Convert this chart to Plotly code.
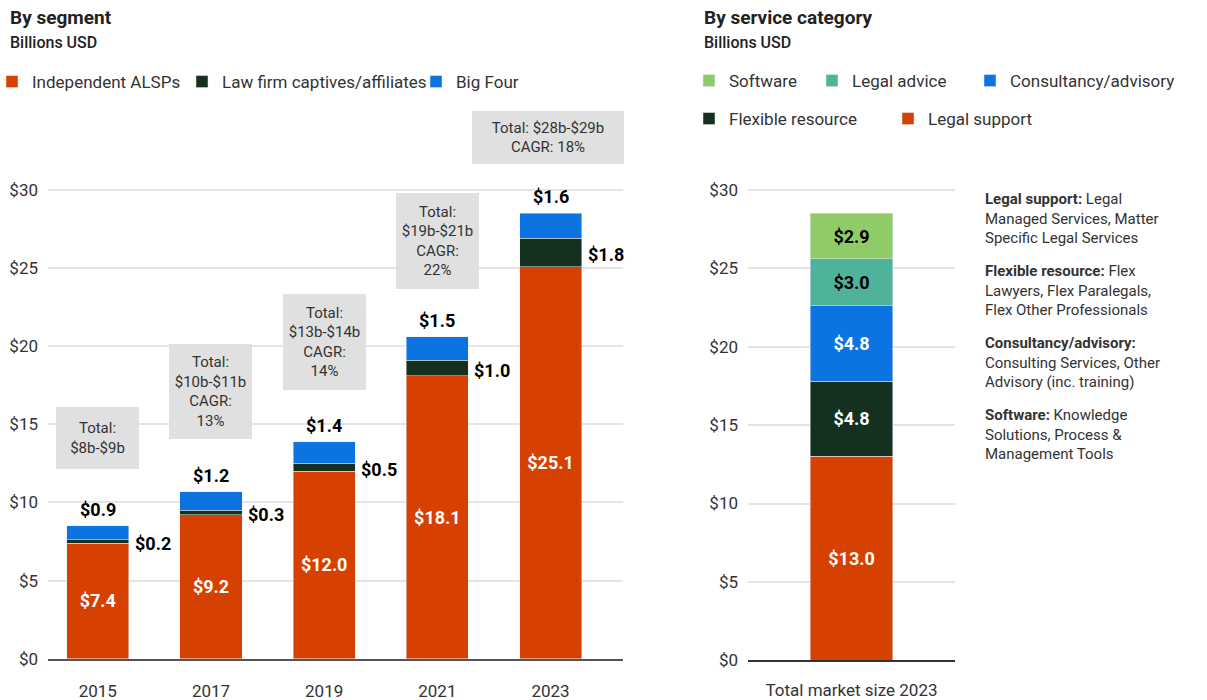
import plotly.graph_objects as go

# ---- Market by segment (billions USD) ----
years = ["2015", "2017", "2019", "2021", "2023"]
independent_alsps = [7.4, 9.2, 12.0, 18.1, 25.1]
law_firm_captives = [0.2, 0.3, 0.5, 1.0, 1.8]
big_four = [0.9, 1.2, 1.4, 1.5, 1.6]
total_ranges = ["$8b-$9b", "$10b-$11b", "$13b-$14b", "$19b-$21b", "$28b-$29b"]
cagr = [None, "13%", "14%", "22%", "18%"]

# ---- Market by service category, 2023 (billions USD) ----
service_x = ["Total market size 2023"]
legal_support = [13.0]
flexible_resource = [4.8]
consultancy_advisory = [4.8]
legal_advice = [3.0]
software = [2.9]

category_notes = [
    ("Legal support:", " Legal<br>Managed Services, Matter<br>Specific Legal Services"),
    ("Flexible resource:", " Flex<br>Lawyers, Flex Paralegals,<br>Flex Other Professionals"),
    ("Consultancy/advisory:", "<br>Consulting Services, Other<br>Advisory (inc. training)"),
    ("Software:", " Knowledge<br>Solutions, Process &<br>Management Tools"),
]

ORANGE = "#D64000"
DARK = "#14301F"
BLUE = "#0B74E1"
LIGHT_GREEN = "#8FCB66"
TEAL = "#4EB39A"
FONT = "Roboto"
TXT = "#333333"

W, H = 1207, 700
BAR_W = 0.548

fig = go.Figure()

# left: stacked segments per year
fig.add_trace(go.Bar(
    x=years, y=independent_alsps, name="Independent ALSPs", marker_color=ORANGE,
    width=BAR_W, texttemplate="$%{y:.1f}", textposition="inside",
    insidetextanchor="middle", textangle=0, constraintext="none",
    textfont=dict(family=FONT, size=18, color="white", weight="bold"),
    legend="legend", showlegend=True, xaxis="x", yaxis="y"))
fig.add_trace(go.Bar(
    x=years, y=law_firm_captives, name="Law firm captives/affiliates",
    marker_color=DARK, width=BAR_W, legend="legend2", xaxis="x", yaxis="y"))
fig.add_trace(go.Bar(
    x=years, y=big_four, name="Big Four", marker_color=BLUE, width=BAR_W,
    legend="legend3", xaxis="x", yaxis="y"))

# right: single stacked bar by service category
right_series = [
    ("Legal support", legal_support, ORANGE, "white", "legend8"),
    ("Flexible resource", flexible_resource, DARK, "white", "legend7"),
    ("Consultancy/advisory", consultancy_advisory, BLUE, "white", "legend6"),
    ("Legal advice", legal_advice, TEAL, "black", "legend5"),
    ("Software", software, LIGHT_GREEN, "black", "legend4"),
]
for name, vals, color, tcolor, leg in right_series:
    fig.add_trace(go.Bar(
        x=service_x, y=vals, name=name, marker_color=color, width=0.4,
        texttemplate="$%{y:.1f}", textposition="inside",
        insidetextanchor="middle", textangle=0, constraintext="none",
        textfont=dict(family=FONT, size=18, color=tcolor, weight="bold"),
        legend=leg, xaxis="x2", yaxis="y2"))

annotations = []

# value labels on the left chart
box_shift = [57, 53, 52, 48, 49]
box_h = [62, 95, 96, 96, 53]
for i, yr in enumerate(years):
    base = independent_alsps[i]
    total = base + law_firm_captives[i] + big_four[i]
    annotations.append(dict(
        x=i, y=total, xref="x", yref="y", yanchor="bottom", yshift=4,
        text=f"<b>${big_four[i]:.1f}</b>", showarrow=False,
        font=dict(family=FONT, size=18, color="black")))
    annotations.append(dict(
        x=i + BAR_W / 2, y=base + law_firm_captives[i] / 2, xref="x", yref="y",
        xanchor="left", yanchor="middle", xshift=4, yshift=-2,
        text=f"<b>${law_firm_captives[i]:.1f}</b>", showarrow=False,
        font=dict(family=FONT, size=18, color="black")))
    # grey summary box above each bar
    if cagr[i] is None:
        box_text, bw, xs = f"Total:<br>{total_ranges[i]}", 83, 0
    elif i == len(years) - 1:
        box_text, bw, xs = f"Total: {total_ranges[i]}<br>CAGR: {cagr[i]}", 152, -3
    else:
        box_text, bw, xs = f"Total:<br>{total_ranges[i]}<br>CAGR:<br>{cagr[i]}", 83, 0
    annotations.append(dict(
        x=i, y=total, xref="x", yref="y", yanchor="bottom", yshift=box_shift[i],
        xshift=xs, text=box_text, showarrow=False, width=bw, height=box_h[i],
        bgcolor="#E0E0E0", borderpad=0, borderwidth=0, align="center",
        valign="middle", font=dict(family=FONT, size=15, color=TXT)))

# headings
def heading(x_px, title):
    annotations.append(dict(
        x=x_px / W, y=1 - 18 / H, xref="paper", yref="paper", xanchor="left",
        yanchor="middle", text=f"<b>{title}</b>", showarrow=False,
        font=dict(family=FONT, size=19, color="#222")))
    annotations.append(dict(
        x=x_px / W, y=1 - 43 / H, xref="paper", yref="paper", xanchor="left",
        yanchor="middle", text="Billions USD", showarrow=False,
        font=dict(family=FONT, size=16, color="#222", weight=500)))

heading(8, "By segment")
heading(702, "By service category")

# category definitions beside the right chart
for k, (head, body) in enumerate(category_notes):
    annotations.append(dict(
        x=983 / W, y=1 - (188 + 72 * k) / H, xref="paper", yref="paper",
        xanchor="left", yanchor="top", align="left", showarrow=False,
        text=f"<b>{head}</b>{body}",
        font=dict(family=FONT, size=15, color=TXT)))

axis_font = dict(family=FONT, size=17, color=TXT)


def legend_at(x_px, y_px, indent=0):
    return dict(orientation="h", xanchor="left", yanchor="middle",
                x=x_px / W, y=1 - y_px / H, indentation=indent,
                font=dict(family=FONT, size=17, color=TXT),
                bgcolor="rgba(0,0,0,0)", borderwidth=0)


fig.update_layout(
    width=W, height=H, margin=dict(l=0, r=0, t=0, b=0, autoexpand=False),
    paper_bgcolor="white", plot_bgcolor="white",
    barmode="stack", hovermode=False, showlegend=True,
    font=dict(family=FONT, color=TXT),
    xaxis=dict(domain=[48 / W, 623 / W], type="category", range=[-0.44, 4.64],
               showline=True, linecolor="#555", linewidth=2, showgrid=False,
               ticks="", tickfont=axis_font, ticklabelstandoff=16,
               anchor="y", fixedrange=True),
    yaxis=dict(domain=[(H - 658.7) / H, (H - 174.4) / H], range=[0, 31],
               dtick=5, tickprefix="$", showgrid=True, gridcolor="#E4E4E4",
               gridwidth=1.5, zeroline=False, ticks="", tickfont=axis_font,
               ticklabelstandoff=9, anchor="x", fixedrange=True),
    xaxis2=dict(domain=[748 / W, 955 / W], type="category", range=[-0.5, 0.5],
                showline=True, linecolor="#333", linewidth=1.5, showgrid=False,
                ticks="", tickfont=axis_font, ticklabelstandoff=14,
                anchor="y2", fixedrange=True),
    yaxis2=dict(domain=[(H - 660.3) / H, (H - 174.3) / H], range=[0, 31],
                dtick=5, tickprefix="$", showgrid=True, gridcolor="#E4E4E4",
                gridwidth=1.5, zeroline=False, ticks="", tickfont=axis_font,
                ticklabelstandoff=9, anchor="x2", fixedrange=True),
    legend=legend_at(0, 82, indent=-8),
    legend2=legend_at(182, 82),
    legend3=legend_at(416, 82),
    legend4=legend_at(689, 81),
    legend5=legend_at(812, 81),
    legend6=legend_at(970, 81),
    legend7=legend_at(689, 119),
    legend8=legend_at(888, 119),
    annotations=annotations,
)

fig.write_html("out.html")
